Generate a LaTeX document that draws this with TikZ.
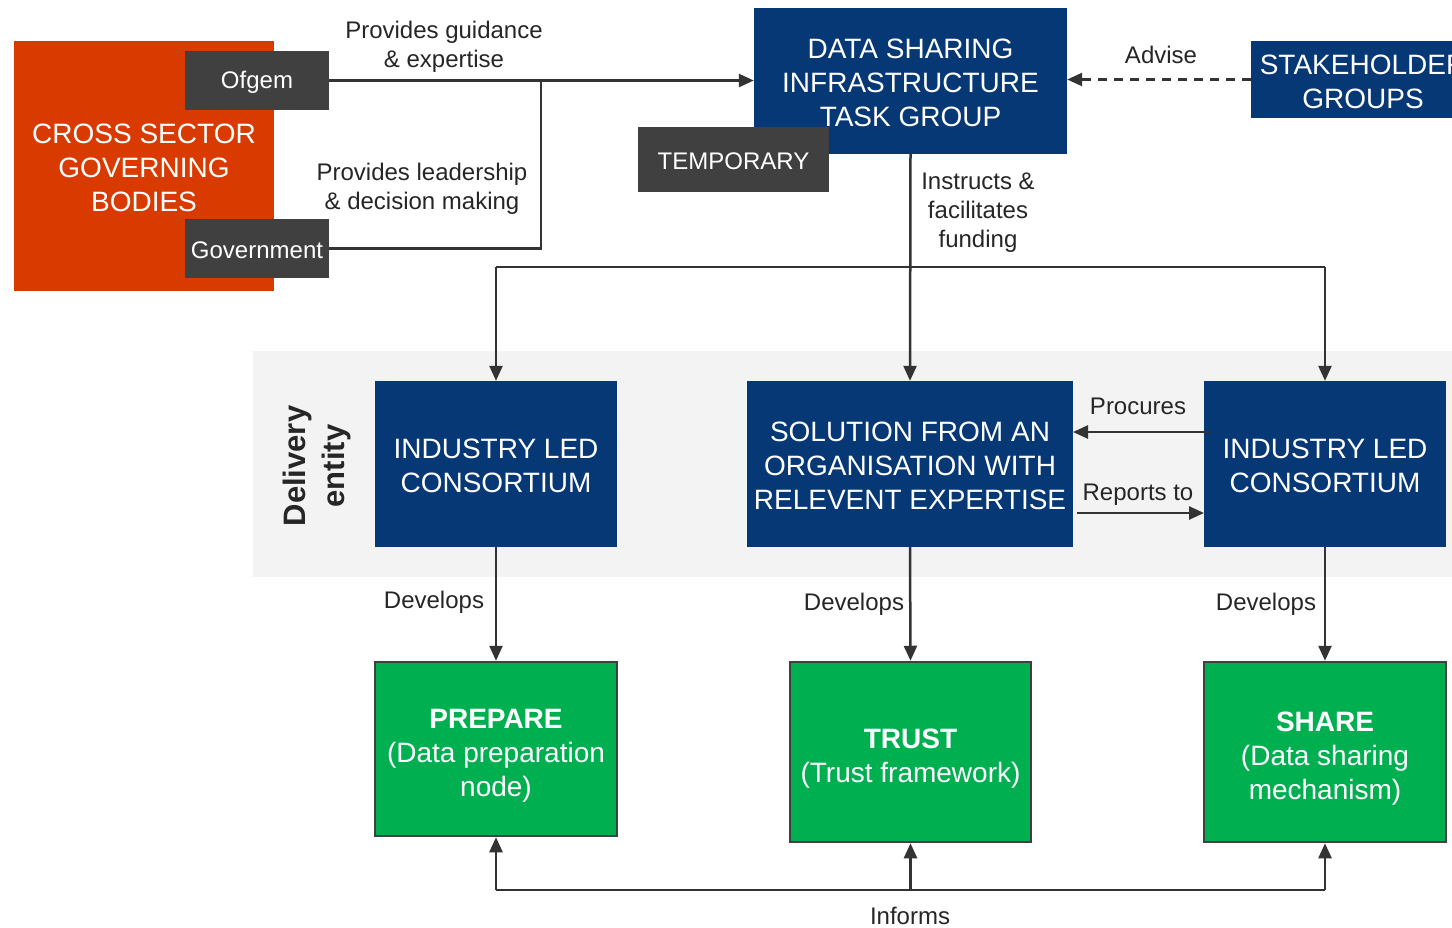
\documentclass[tikz,border=0pt]{standalone}
\usepackage{fontspec}
\setmainfont{Liberation Sans}
\usetikzlibrary{arrows.meta}
\definecolor{govorange}{HTML}{D93A00}
\definecolor{navy}{HTML}{073876}
\definecolor{darkgreybox}{HTML}{404040}
\definecolor{greenbox}{HTML}{00B050}
\definecolor{bandgrey}{HTML}{F3F3F3}
\definecolor{linec}{HTML}{333333}
\definecolor{labelc}{HTML}{262626}
\newcommand{\capdrop}{\rule{0pt}{24pt}}
\newcommand{\greendrop}{\rule{0pt}{32pt}}
\begin{document}
\begin{tikzpicture}[x=1pt,y=-1pt,
  bigtext/.style={font=\fontsize{28}{34}\selectfont},
  smalltext/.style={font=\fontsize{24}{29}\selectfont},
  lowertext/.style={execute at begin node={\rule{0pt}{#1}}},
  fillbox/.style={inner sep=0pt, text=white, align=center, anchor=center},
  navybox/.style={fillbox, fill=navy, bigtext},
  greybox/.style={fillbox, fill=darkgreybox, smalltext, lowertext=21pt},
  greenstyle/.style={fillbox, fill=greenbox, draw=darkgreybox, line width=2.5pt, bigtext},
  lbl/.style={text=labelc, align=center, smalltext, inner sep=0pt, anchor=center},
  conn/.style={draw=linec, line width=2.5pt},
  arr/.style={conn, -{Triangle[length=15pt,width=13pt]}},
]
\clip (0,0) rectangle (1452,927);
\fill[white] (0,0) rectangle (1452,927);

% delivery band
\fill[bandgrey] (253,351) rectangle (1460,577);
\node[rotate=90, text=labelc, font=\bfseries\fontsize{31}{39}\selectfont, align=center, inner sep=0pt] (deliv) at (317,466) {Delivery\\entity};

% governing bodies
\node[fillbox, fill=govorange, bigtext, minimum width=260pt, minimum height=250pt] (gov) at (144,166) {\capdrop CROSS SECTOR\\GOVERNING\\BODIES};
\node[greybox, minimum width=144pt, minimum height=59pt] (ofgem) at (257,80.5) {Ofgem};
\node[greybox, minimum width=144pt, minimum height=59pt] (govt) at (257,248.5) {Government};

% task group
\node[navybox, minimum width=313pt, minimum height=146pt] (dsitg) at (910.5,81) {\capdrop DATA SHARING\\INFRASTRUCTURE\\TASK GROUP};
\node[greybox, minimum width=191pt, minimum height=65pt] (temp) at (733.5,159.5) {TEMPORARY};
\node[navybox, minimum width=224pt, minimum height=77pt] (stake) at (1363,79.5) {\capdrop STAKEHOLDER\\GROUPS};

% delivery entities
\node[navybox, minimum width=242pt, minimum height=166pt] (ilcl) at (496,464) {\capdrop INDUSTRY LED\\CONSORTIUM};
\node[navybox, minimum width=326pt, minimum height=166pt] (sol) at (910,464) {\capdrop SOLUTION FROM AN\\ORGANISATION WITH\\RELEVENT EXPERTISE};
\node[navybox, minimum width=242pt, minimum height=166pt] (ilcr) at (1325,464) {\capdrop INDUSTRY LED\\CONSORTIUM};

% outputs
\node[greenstyle, minimum width=242pt, minimum height=174pt] (prep) at (496,749) {\greendrop\textbf{PREPARE}\\(Data preparation\\node)};
\node[greenstyle, minimum width=241pt, minimum height=180pt] (trust) at (910.5,752) {\greendrop\textbf{TRUST}\\(Trust framework)};
\node[greenstyle, minimum width=242pt, minimum height=180pt] (share) at (1325,752) {\greendrop\textbf{SHARE}\\(Data sharing\\mechanism)};

% coordinates
\coordinate (jgov) at (541,80.5);
\coordinate (busl) at (496,267);
\coordinate (busr) at (1325,267);
\coordinate (procS) at (1212,432);
\coordinate (procE) at (1073,432);
\coordinate (repS) at (1077,513);
\coordinate (repE) at (1204,513);
\coordinate (infl) at (496,890);
\coordinate (infm) at (910.5,890);
\coordinate (infr) at (1325,890);

% connectors
\draw[arr] (ofgem.east) -- (ofgem.east -| dsitg.west);
\draw[conn] (govt.east) -| (jgov);
\draw[arr, dashed, dash pattern=on 9pt off 7pt] (stake.west) -- (stake.west -| dsitg.east);
\draw[arr] (dsitg.south) -- (sol.north);
\draw[conn] (busl) -- (busr);
\draw[arr] (busl) -- (ilcl.north);
\draw[arr] (busr) -- (ilcr.north);
\draw[arr] (procS) -- (procE);
\draw[arr] (repS) -- (repE);
\draw[arr] (ilcl.south) -- (prep.north);
\draw[arr] (sol.south) -- (trust.north);
\draw[arr] (ilcr.south) -- (share.north);
\draw[conn] (infl) -- (infr);
\draw[arr] (infl) -- (prep.south);
\draw[arr] (infm) -- (trust.south);
\draw[arr] (infr) -- (share.south);

% labels
\node[lbl] (l1) at (444,46.5) {Provides guidance\\\& expertise};
\node[lbl] (l2) at (422,189) {Provides leadership\\\& decision making};
\node[lbl] (l3) at (1161,55) {Advise};
\node[lbl] (l4) at (978,213) {Instructs \&\\facilitates\\funding};
\node[lbl] (l5) at (1138,406) {Procures};
\node[lbl] (l6) at (1138,495) {Reports to};
\node[lbl] (l7) at (434,602) {Develops};
\node[lbl] (l8) at (854,604) {Develops};
\node[lbl] (l9) at (1266,604) {Develops};
\node[lbl] (l10) at (910,916) {Informs};
\end{tikzpicture}
\end{document}
